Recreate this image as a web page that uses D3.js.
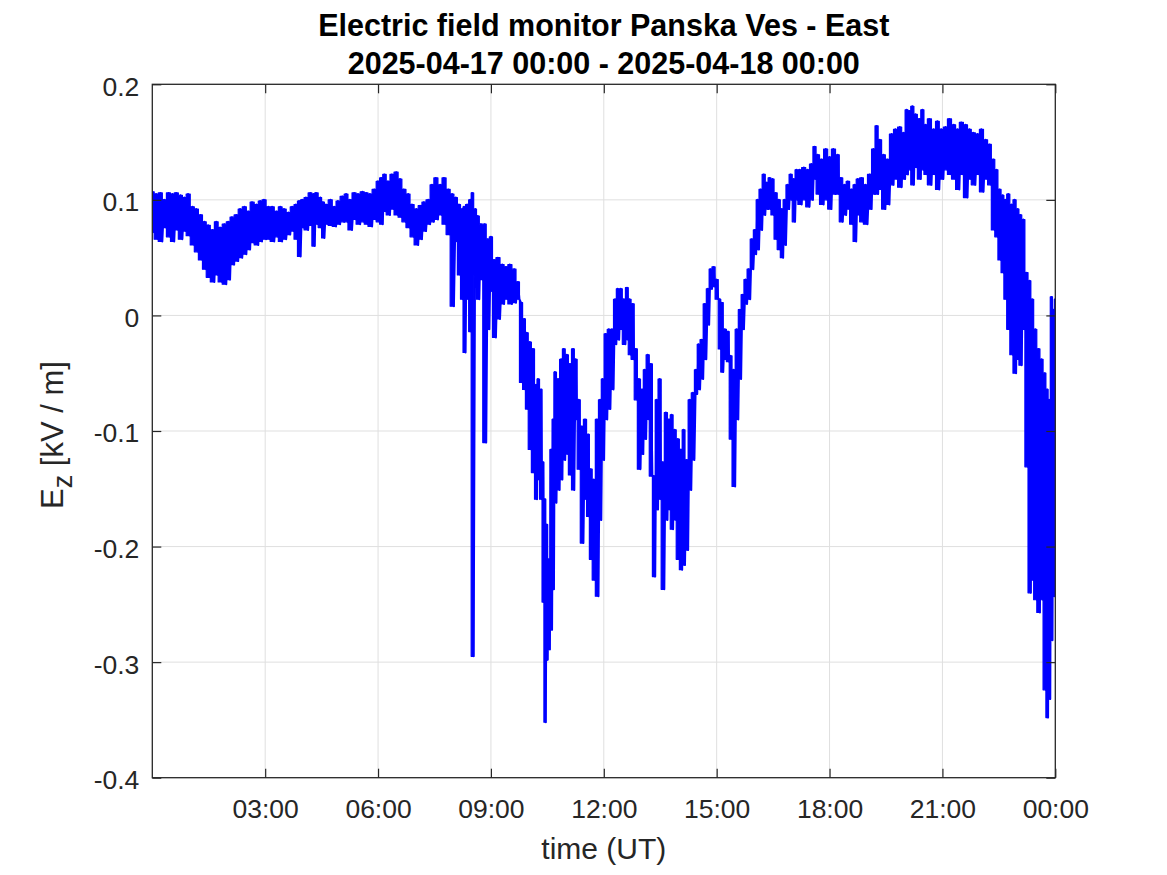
<!DOCTYPE html>
<html><head><meta charset="utf-8">
<script src="https://cdn.jsdelivr.net/npm/d3@7/dist/d3.min.js"></script>
<style>
body{margin:0;background:#fff;}
svg{display:block;font-family:"Liberation Sans",Arial,Helvetica,sans-serif;}
</style>
</head><body>
<svg id="chart" width="1167" height="875"></svg>
<script>
// ---------- data ----------
const titleLines = ["Electric field monitor Panska Ves - East", "2025-04-17 00:00 - 2025-04-18 00:00"];
const xLabel = "time (UT)";
const xTickMinutes = [180, 360, 540, 720, 900, 1080, 1260, 1440];
const xTickLabels = ["03:00", "06:00", "09:00", "12:00", "15:00", "18:00", "21:00", "00:00"];
const yTicks = [-0.4, -0.3, -0.2, -0.1, 0, 0.1, 0.2];
const yTickLabels = ["-0.4", "-0.3", "-0.2", "-0.1", "0", "0.1", "0.2"];

// minutes since 2025-04-17 00:00 UT
const timeMin = [0,6,13,19,26,32,38,45,51,57,64,70,77,83,89,96,102,108,115,121,127,134,140,147,153,159,166,172,178,
185,191,198,204,210,217,223,229,234,239,245,252,257,261,268,272,277,284,290,296,303,309,315,322,328,335,341,347,354,360,
365,370,376,382,389,395,401,408,414,421,427,433,440,446,452,459,465,472,478,484,489,494,497,502,507,510,515,519,524,530,535,540,
545,551,558,564,570,577,583,588,593,597,602,607,612,615,620,623,626,629,632,636,639,642,647,652,656,661,666,671,675,680,685,690,695,699,704,709,714,718,723,
728,733,738,742,747,752,757,761,766,771,776,781,785,790,795,800,804,809,814,819,824,828,833,838,843,847,852,857,862,867,871,876,881,886,890,895,900,905,
908,913,918,922,927,932,937,941,946,951,956,961,965,970,975,980,984,989,994,999,1004,1008,1013,1018,1023,1027,1032,1039,1045,1051,1056,1061,1067,1074,1080,1086,
1093,1098,1104,1109,1115,1120,1125,1131,1137,1144,1150,1155,1160,1166,1172,1179,1185,1192,1198,1203,1207,1212,1217,1223,1228,1233,1239,1246,1252,1258,
1265,1271,1278,1284,1290,1297,1303,1309,1316,1322,1329,1335,1341,1346,1351,1356,1360,1365,1370,1375,1380,1384,1389,1394,1399,1403,1408,1413,1418,1423,1427,1430,1434,1437,1440];

// upper envelope of Ez (kV/m) in each sample
const ezHigh = [0.107,0.105,0.106,0.100,0.106,0.105,0.106,0.104,0.102,0.105,0.094,0.092,0.087,0.081,0.078,0.074,0.081,0.076,0.079,0.081,0.085,0.087,0.092,0.094,0.090,0.098,0.096,0.099,0.100,
0.094,0.094,0.090,0.094,0.092,0.089,0.094,0.096,0.099,0.100,0.102,0.106,0.105,0.106,0.102,0.098,0.096,0.100,0.094,0.099,0.103,0.105,0.100,0.106,0.105,0.107,0.106,0.105,0.109,0.116,
0.119,0.122,0.116,0.122,0.124,0.118,0.109,0.105,0.096,0.092,0.095,0.098,0.100,0.113,0.119,0.113,0.119,0.109,0.105,0.102,0.096,0.092,0.094,0.096,0.100,0.106,0.092,0.086,0.079,0.079,0.066,0.068,
0.048,0.050,0.044,0.042,0.044,0.040,0.029,0.011,-0.003,-0.015,-0.023,-0.029,-0.060,-0.055,-0.064,-0.127,-0.159,-0.181,-0.211,-0.116,-0.090,-0.049,-0.055,-0.038,-0.029,-0.034,-0.042,-0.029,-0.038,-0.073,-0.096,-0.090,-0.103,-0.133,-0.142,-0.090,-0.073,-0.055,-0.016,
-0.012,-0.012,0.014,0.023,0.023,0.014,0.024,0.014,0.010,-0.029,-0.055,-0.064,-0.047,-0.034,-0.042,-0.139,-0.073,-0.055,-0.127,-0.084,-0.090,-0.086,-0.099,-0.107,-0.116,-0.099,-0.125,-0.073,-0.067,-0.047,-0.025,-0.021,0.010,0.023,0.040,0.042,0.031,0.014,
0.011,-0.012,-0.014,-0.035,-0.047,-0.012,0.005,0.018,0.031,0.040,0.066,0.074,0.100,0.109,0.122,0.115,0.119,0.118,0.106,0.100,0.092,0.100,0.113,0.122,0.118,0.126,0.126,0.128,0.126,0.131,0.146,0.139,0.135,0.144,0.137,0.144,
0.139,0.119,0.113,0.116,0.109,0.113,0.118,0.119,0.113,0.122,0.144,0.164,0.152,0.139,0.135,0.157,0.161,0.163,0.158,0.178,0.177,0.181,0.174,0.170,0.178,0.165,0.170,0.161,0.168,0.161,
0.163,0.170,0.165,0.161,0.167,0.165,0.161,0.158,0.157,0.161,0.152,0.148,0.135,0.126,0.109,0.104,0.100,0.105,0.096,0.100,0.092,0.087,0.083,0.037,0.030,0.014,-0.012,-0.029,-0.038,-0.050,-0.064,-0.073,0.016,0.005,0.014];

// lower envelope of Ez (kV/m) in each sample
const ezLow = [0.072,0.066,0.064,0.076,0.068,0.064,0.074,0.066,0.073,0.069,0.061,0.055,0.048,0.040,0.033,0.029,0.035,0.029,0.027,0.031,0.044,0.047,0.050,0.053,0.057,0.063,0.061,0.064,0.066,
0.066,0.064,0.068,0.064,0.066,0.070,0.073,0.066,0.051,0.076,0.074,0.078,0.060,0.079,0.076,0.067,0.079,0.078,0.077,0.079,0.081,0.081,0.074,0.083,0.079,0.081,0.079,0.077,0.083,0.081,
0.079,0.090,0.087,0.092,0.087,0.085,0.081,0.076,0.068,0.061,0.066,0.073,0.079,0.081,0.083,0.087,0.079,0.070,0.008,0.064,0.035,0.014,-0.032,0.014,-0.014,-0.295,0.035,0.014,0.031,-0.110,-0.012,0.021,
-0.019,-0.003,0.010,0.014,0.010,0.011,0.014,-0.058,-0.064,-0.081,-0.116,-0.136,-0.159,-0.142,-0.159,-0.248,-0.352,-0.298,-0.289,-0.272,-0.237,-0.162,-0.151,-0.142,-0.125,-0.120,-0.138,-0.151,-0.090,-0.133,-0.197,-0.159,-0.174,-0.211,-0.229,-0.243,-0.177,-0.125,-0.090,
-0.081,-0.064,-0.025,-0.021,-0.012,-0.025,-0.021,-0.034,-0.038,-0.073,-0.133,-0.120,-0.107,-0.090,-0.139,-0.226,-0.168,-0.159,-0.237,-0.177,-0.168,-0.185,-0.177,-0.211,-0.220,-0.216,-0.203,-0.151,-0.125,-0.068,-0.064,-0.055,-0.038,-0.008,0.023,0.025,0.014,-0.029,
-0.049,-0.038,-0.040,-0.107,-0.148,-0.090,-0.055,-0.012,0.010,0.014,0.040,0.053,0.057,0.074,0.087,0.092,0.092,0.087,0.066,0.057,0.050,0.061,0.092,0.100,0.081,0.100,0.096,0.100,0.094,0.100,0.118,0.105,0.096,0.100,0.092,0.105,
0.105,0.081,0.087,0.092,0.079,0.064,0.087,0.081,0.079,0.092,0.105,0.105,0.109,0.092,0.096,0.113,0.118,0.111,0.118,0.122,0.126,0.113,0.128,0.118,0.126,0.122,0.113,0.122,0.109,0.118,
0.126,0.122,0.118,0.109,0.122,0.102,0.118,0.113,0.122,0.107,0.118,0.113,0.074,0.068,0.048,0.037,0.014,-0.012,-0.034,-0.050,-0.038,-0.043,-0.012,-0.131,-0.240,-0.229,-0.246,-0.257,-0.246,-0.324,-0.348,-0.332,-0.281,-0.243,-0.211];

// ---------- layout ----------
const W = 1167, H = 875;
const plot = {left: 152.3, right: 1055.3, top: 84.3, bottom: 777.7};
const axisColor = "#262626";
const dataColor = "#0000ff";
const svg = d3.select("#chart");
svg.append("rect").attr("width", W).attr("height", H).attr("fill", "#fff");

const x = d3.scaleLinear().domain([0, 1440]).range([plot.left, plot.right]);
const y = d3.scaleLinear().domain([-0.4, 0.2]).range([plot.bottom, plot.top]);

// grid
const grid = svg.append("g").attr("stroke", "#dfdfdf").attr("stroke-width", 1);
grid.selectAll("line.v").data(xTickMinutes.slice(0, -1)).join("line")
  .attr("x1", d => x(d)).attr("x2", d => x(d)).attr("y1", plot.top).attr("y2", plot.bottom);
grid.selectAll("line.h").data(yTicks.slice(1, -1)).join("line")
  .attr("x1", plot.left).attr("x2", plot.right).attr("y1", d => y(d)).attr("y2", d => y(d));

// data
svg.append("clipPath").attr("id", "clip").append("rect")
  .attr("x", plot.left).attr("y", plot.top)
  .attr("width", plot.right - plot.left).attr("height", plot.bottom - plot.top);

const samples = timeMin.map((t, i) => ({t, hi: ezHigh[i], lo: ezLow[i]}));
const gData = svg.append("g").attr("clip-path", "url(#clip)");

// filled envelope (min/max of the dense record in each sample)
const area = d3.area().curve(d3.curveStep)
  .x(d => x(d.t)).y0(d => y(d.lo)).y1(d => y(d.hi));
gData.append("path").datum(samples)
  .attr("d", area).attr("fill", dataColor)
  .attr("stroke", dataColor).attr("stroke-width", 1.2).attr("stroke-linejoin", "round");

// jagged trace between maxima and minima
const pts = [];
samples.forEach((s, i) => {
  const tn = i < samples.length - 1 ? samples[i + 1].t : s.t;
  pts.push([s.t, s.hi]);
  pts.push([(s.t + tn) / 2, s.lo]);
});
const line = d3.line().x(d => x(d[0])).y(d => y(d[1]));
gData.append("path").datum(pts)
  .attr("d", line)
  .attr("fill", "none")
  .attr("stroke", dataColor)
  .attr("stroke-width", 2)
  .attr("stroke-linejoin", "round");

// axes
const fmtX = d => xTickLabels[xTickMinutes.indexOf(d)];
const fmtY = d => yTickLabels[yTicks.indexOf(d)];

const gx = svg.append("g").attr("transform", `translate(0,${plot.bottom})`)
  .call(d3.axisBottom(x).tickValues(xTickMinutes).tickFormat(fmtX).tickSize(-9).tickPadding(21.5));
const gxt = svg.append("g").attr("transform", `translate(0,${plot.top})`)
  .call(d3.axisTop(x).tickValues(xTickMinutes).tickFormat("").tickSize(-9));
const gy = svg.append("g").attr("transform", `translate(${plot.left},0)`)
  .call(d3.axisLeft(y).tickValues(yTicks).tickFormat(fmtY).tickSize(-9).tickPadding(13));
const gyr = svg.append("g").attr("transform", `translate(${plot.right},0)`)
  .call(d3.axisRight(y).tickValues(yTicks).tickFormat("").tickSize(-9));

[gx, gxt, gy, gyr].forEach(g => {
  g.select(".domain").remove();
  g.selectAll(".tick line").attr("stroke", axisColor).attr("stroke-width", 1.2);
  g.selectAll(".tick text").attr("fill", axisColor)
    .style("font-family", '"Liberation Sans", Arial, sans-serif').style("font-size", "26.5px");
});
gy.selectAll(".tick text").attr("dy", "0.41em");

svg.append("rect")
  .attr("x", plot.left).attr("y", plot.top)
  .attr("width", plot.right - plot.left).attr("height", plot.bottom - plot.top)
  .attr("fill", "none").attr("stroke", axisColor).attr("stroke-width", 1.3);

// title
const cx = (plot.left + plot.right) / 2;
svg.append("g").selectAll("text").data(titleLines).join("text")
  .attr("x", cx).attr("y", (d, i) => 35.5 + i * 38)
  .attr("text-anchor", "middle")
  .attr("font-weight", "bold").attr("font-size", 30.5).attr("fill", "#000")
  .text(d => d);

// x label
svg.append("text").attr("x", cx).attr("y", 859)
  .attr("text-anchor", "middle").attr("font-size", 30).attr("fill", axisColor)
  .text(xLabel);

// y label
const yl = svg.append("text")
  .attr("transform", `translate(63,${(plot.top + plot.bottom) / 2 + 4}) rotate(-90)`)
  .attr("text-anchor", "middle").attr("font-size", 31).attr("fill", axisColor);
yl.append("tspan").text("E");
yl.append("tspan").attr("dy", 9).attr("font-size", 27).text("z");
yl.append("tspan").attr("dy", -9).text(" [kV / m]");
</script>
</body></html>
